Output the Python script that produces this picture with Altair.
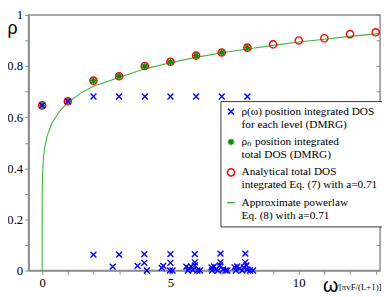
import altair as alt
import pandas as pd

# ---- data ----
# Analytical total DOS (red circles)
omega_analytic = [0, 1, 2, 3, 4, 5, 6, 7, 8, 9, 10, 11, 12, 13]
rho_analytic = [0.646, 0.662, 0.743, 0.760, 0.800, 0.817, 0.841, 0.853, 0.872,
                0.885, 0.900, 0.909, 0.925, 0.932]

# DMRG total DOS (green stars)
omega_total = [0, 1, 2, 3, 4, 5, 6, 7, 8]
rho_total = [0.646, 0.662, 0.743, 0.760, 0.800, 0.817, 0.841, 0.853, 0.872]

# DMRG per-level integrated DOS (blue crosses)
omega_level = [0, 1, 2, 3, 4, 5, 6, 7, 8,
               2.0,
               3.0, 2.75,
               3.98, 3.98, 3.72, 4.08,
               5.0, 5.0, 4.72, 4.66, 4.98, 5.08,
               5.95, 5.95, 5.95, 5.62, 5.72, 5.80, 5.68, 5.88, 6.05, 6.15,
               6.95, 6.95, 6.93, 6.60, 6.70, 6.78, 6.62, 6.85, 7.05, 7.15, 7.22,
               7.92, 7.92, 7.96, 7.50, 7.60, 7.70, 7.55, 7.80, 7.86, 8.00, 8.10, 8.22]
rho_level = [0.646, 0.662, 0.681, 0.681, 0.681, 0.681, 0.681, 0.681, 0.681,
             0.062,
             0.062, 0.015,
             0.064, 0.030, 0.018, 0.0,
             0.064, 0.030, 0.018, 0.010, 0.0, 0.0,
             0.064, 0.032, 0.020, 0.015, 0.008, 0.016, 0.0, 0.002, 0.0, 0.0,
             0.066, 0.032, 0.020, 0.012, 0.016, 0.005, 0.0, 0.0, 0.004, 0.0, 0.0,
             0.066, 0.032, 0.020, 0.012, 0.016, 0.008, 0.0, 0.0, 0.012, 0.004, 0.0, 0.0]

# Approximate power law (green line)
omega_pl = [0, 0.002, 0.005, 0.02, 0.05, 0.1, 0.2, 0.4, 0.7, 1.0, 1.5, 2, 3, 4, 5,
            6, 7, 8, 9, 10, 11, 12, 13, 13.17]
rho_pl = [0.0, 0.29, 0.323, 0.389, 0.440, 0.482, 0.529, 0.581, 0.626, 0.657, 0.694,
          0.721, 0.755, 0.789, 0.813, 0.834, 0.852, 0.867, 0.881, 0.894, 0.905,
          0.916, 0.926, 0.928]

series = [
    "ρ(ω)  position integrated DOS|for each level (DMRG)",
    "ρₙ position integrated|total DOS (DMRG)",
    "Analytical total DOS|integrated Eq. (7) with a=0.71",
    "Approximate powerlaw|Eq. (8) with a=0.71",
]
colors = ["#0000ff", "#0a8c0a", "#ff0000", "#3cb43c"]
shapes = ["M-1,-1L1,1M-1,1L1,-1",
          "M-1,0L1,0M0,-1L0,1M-0.71,-0.71L0.71,0.71M-0.71,0.71L0.71,-0.71",
          "circle", "stroke"]
sizes = [36, 64, 100, 100]

pts = pd.concat([
    pd.DataFrame({"omega": omega_analytic, "rho": rho_analytic, "series": series[2]}),
    pd.DataFrame({"omega": omega_total, "rho": rho_total, "series": series[1]}),
    pd.DataFrame({"omega": omega_level, "rho": rho_level, "series": series[0]}),
], ignore_index=True)
line_df = pd.DataFrame({"omega": omega_pl, "rho": rho_pl, "series": series[3]})

xscale = alt.Scale(domain=[-0.53, 13.17], nice=False, zero=False)
yscale = alt.Scale(domain=[0, 1], nice=False)
yvals = [round(i * 0.1, 1) for i in range(11)]

legend = alt.Legend(
    title=None, orient="none", legendX=196, legendY=88,
    strokeColor="#333333", fillColor="white", padding=5,
    labelFont="Liberation Serif", labelFontSize=11.5, labelColor="black",
    labelExpr="split(datum.label, '|')", labelLimit=220,
    rowPadding=5, labelOffset=5, symbolStrokeWidth=1.5,
)
color = alt.Color("series:N", scale=alt.Scale(domain=series, range=colors), legend=legend)
shape = alt.Shape("series:N", scale=alt.Scale(domain=series, range=shapes), legend=legend)
size = alt.Size("series:N", scale=alt.Scale(domain=series, range=sizes), legend=legend)

line = alt.Chart(line_df).mark_line(strokeWidth=1.1, clip=True).encode(
    x=alt.X("omega:Q", scale=xscale, axis=None),
    y=alt.Y("rho:Q", scale=yscale, axis=alt.Axis(
        orient="right", values=yvals, labels=False, tickSize=4, offset=-4,
        domain=False, title="/[πvF/(L+1)]", titleAngle=0, titleX=-41, titleY=280,
        titleAlign="left", titleBaseline="alphabetic", titleFont="Liberation Serif",
        titleFontSize=9, titleFontWeight="normal", titleColor="black")),
    color=color,
    order=alt.value(0),
)

points = alt.Chart(pts).mark_point(filled=False, strokeWidth=1.4, opacity=1).encode(
    x=alt.X("omega:Q", scale=xscale, axis=alt.Axis(
        values=list(range(14)), format="d",
        labelExpr="datum.value % 5 === 0 ? datum.label : ''",
        tickSize=4, labelPadding=2, title="ω", titleAngle=0,
        titleX=308, titleY=21, titleAlign="center", titleBaseline="alphabetic",
        titleFont="Liberation Sans", titleFontSize=20, titleFontWeight="normal",
        titleColor="black")),
    y=alt.Y("rho:Q", scale=yscale, axis=alt.Axis(
        values=yvals, tickSize=4, labelPadding=2,
        labelExpr="round(datum.value * 10) % 2 === 0 ? format(datum.value, '~g') : ''",
        title="ρ", titleAngle=0, titleX=-17, titleY=19, titleAlign="center",
        titleBaseline="alphabetic", titleFont="Liberation Sans", titleFontSize=18,
        titleFontWeight="normal", titleColor="black")),
    color=color,
    shape=shape,
    size=size,
)

chart = alt.layer(line, points).resolve_axis(x="independent", y="independent").properties(
    width=359, height=261,
    autosize=alt.AutoSizeParams(type="none"),
    padding={"left": 21, "top": 4, "right": 2, "bottom": 24},
).configure_view(stroke="#8c8c8c", strokeWidth=1.5).configure_axis(
    labelFont="Liberation Serif", labelFontSize=13, labelColor="black",
    tickColor="#8c8c8c", domainColor="#8c8c8c", domainWidth=1.8, tickWidth=1,
    grid=False,
)

chart.save("out.html", embed_options={"renderer": "svg", "actions": False})
